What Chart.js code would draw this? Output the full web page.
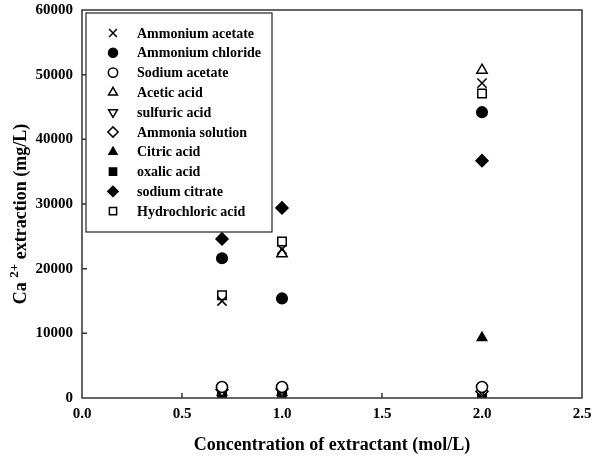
<!DOCTYPE html>
<html>
<head>
<meta charset="utf-8">
<script src="https://cdn.jsdelivr.net/npm/chart.js@4/dist/chart.umd.min.js"></script>
<style>
  html, body { margin: 0; padding: 0; background: #fff; }
  #wrap { width: 592px; height: 460px; }
</style>
</head>
<body>
<div id="wrap"><canvas id="caChart"></canvas></div>
<script>
// concentration of extractant (mol/L)
const concentrations = [0.7, 1.0, 2.0];

// Ca2+ extraction (mg/L) per extractant
const ammoniumAcetate = [15000, 23000, 48700];
const ammoniumChloride = [21600, 15400, 44200];
const sodiumAcetate = [1700, 1700, 1700];
const aceticAcid = [null, 22300, 50700];
const sulfuricAcid = [1100, 1100, 1200];
const ammoniaSolution = [1300, 1400, 1000];
const citricAcid = [900, 900, 9300];
const oxalicAcid = [700, 800, 100];
const sodiumCitrate = [24600, 29400, 36700];
const hydrochloricAcid = [15900, 24200, 47100];

const xTicks = [0, 0.5, 1.0, 1.5, 2.0, 2.5];
const yTicks = [0, 10000, 20000, 30000, 40000, 50000, 60000];

const serif = "'Liberation Serif', 'Times New Roman', serif";

function toPoints(values) 
{
    return concentrations
      .map((c, i) => ({ x: c, y: values[i] }))
      .filter(p => p.y !== null);
}

function makeSet(label, values, style, filled, radius, rotation) 
{
    return {
      label: label,
      data: toPoints(values),
      pointStyle: style,
      pointRadius: radius,
      pointHoverRadius: radius,
      pointRotation: rotation || 0,
      backgroundColor: filled ? '#000' : '#fff',
      borderColor: '#000',
      borderWidth: 1.5,
      showLine: false
    };
}

const datasets = [
  makeSet('Ammonium acetate', ammoniumAcetate, 'crossRot', false, 6.5),
  makeSet('Ammonium chloride', ammoniumChloride, 'circle', true, 5.3),
  makeSet('Sodium acetate', sodiumAcetate, 'circle', false, 5.5),
  makeSet('Acetic acid', aceticAcid, 'triangle', false, 6),
  makeSet('sulfuric acid', sulfuricAcid, 'triangle', false, 6, 180),
  makeSet('Ammonia solution', ammoniaSolution, 'rectRot', false, 6),
  makeSet('Citric acid', citricAcid, 'triangle', true, 5.5),
  makeSet('oxalic acid', oxalicAcid, 'rect', true, 6),
  makeSet('sodium citrate', sodiumCitrate, 'rectRot', true, 6),
  makeSet('Hydrochloric acid', hydrochloricAcid, 'rect', false, 6)
];

// frame, inward ticks, y title and the boxed legend inside the plot
const framePlugin = {
  id: 'frameAndLegend',
  afterDraw(chart) 
  {
    const ctx = chart.ctx;
    const area = chart.chartArea;
    const xs = chart.scales.x;
    const ys = chart.scales.y;

    ctx.save();
    ctx.strokeStyle = '#333';
    ctx.lineWidth = 1.5;
    ctx.strokeRect(area.left, area.top, area.right - area.left, area.bottom - area.top);

    ctx.beginPath();
    xTicks.slice(1, -1).forEach(v => 
    {
      const px = xs.getPixelForValue(v);
      ctx.moveTo(px, area.bottom);
      ctx.lineTo(px, area.bottom - 5);
    });
    yTicks.slice(1, -1).forEach(v => 
    {
      const py = ys.getPixelForValue(v);
      ctx.moveTo(area.left, py);
      ctx.lineTo(area.left + 5, py);
    });
    ctx.stroke();

    // y axis title with a real superscript
    ctx.fillStyle = '#000';
    ctx.textBaseline = 'alphabetic';
    ctx.textAlign = 'left';
    const big = "bold 18px " + serif;
    const small = "bold 13px " + serif;
    ctx.font = big;
    const w1 = ctx.measureText('Ca ').width;
    const w3 = ctx.measureText(' extraction (mg/L)').width;
    ctx.font = small;
    const w2 = ctx.measureText('2+').width;
    const total = w1 + w2 + w3;
    ctx.translate(20, 214);
    ctx.rotate(-Math.PI / 2);
    let tx = -total / 2;
    ctx.font = big;
    ctx.fillText('Ca ', tx, 6);
    tx += w1;
    ctx.font = small;
    ctx.fillText('2+', tx, -2);
    tx += w2;
    ctx.font = big;
    ctx.fillText(' extraction (mg/L)', tx, 6);
    ctx.setTransform(1, 0, 0, 1, 0, 0);

    // legend box
    const boxX = area.left + 4;
    const boxY = area.top + 3;
    const boxW = 186;
    const boxH = 219;
    ctx.fillStyle = '#fff';
    ctx.fillRect(boxX, boxY, boxW, boxH);
    ctx.strokeStyle = '#222';
    ctx.lineWidth = 1.2;
    ctx.strokeRect(boxX, boxY, boxW, boxH);

    ctx.font = "bold 14px " + serif;
    ctx.textBaseline = 'middle';
    ctx.textAlign = 'left';
    chart.data.datasets.forEach((ds, i) => 
    {
      const cy = boxY + 20 + i * 19.8;
      const mx = boxX + 27;
      ctx.fillStyle = ds.backgroundColor;
      ctx.strokeStyle = ds.borderColor;
      ctx.lineWidth = ds.borderWidth;
      Chart.helpers.drawPoint(ctx, {
        pointStyle: ds.pointStyle,
        radius: ds.pointRadius * 0.85,
        rotation: ds.pointRotation,
        borderWidth: ds.borderWidth
      }, mx, cy);
      ctx.fillStyle = '#000';
      ctx.fillText(ds.label, boxX + 51, cy + 1);
    });
    ctx.restore();
  }
};

new Chart(document.getElementById('caChart'), 
{
  type: 'scatter',
  data: { datasets: datasets },
  options: 
  {
    responsive: true,
    maintainAspectRatio: false,
    animation: false,
    layout: { padding: { top: 10, right: 10, left: 0, bottom: 0 } },
    plugins: 
    {
      legend: { display: false },
      tooltip: { enabled: false }
    },
    scales: 
    {
      x: 
      {
        type: 'linear',
        min: 0,
        max: 2.5,
        afterFit: scale => 
        {
          scale.height = 62;
          scale.paddingLeft = 0;
          scale.paddingRight = 0;
        },
        afterBuildTicks: scale => { scale.ticks = xTicks.map(v => ({ value: v })); },
        border: { display: false },
        grid: { display: false, drawTicks: false, tickLength: 0 },
        ticks: 
        {
          color: '#000',
          padding: 7,
          font: { family: serif, size: 15, weight: 'bold' },
          callback: v => Number(v).toFixed(1)
        },
        title: 
        {
          display: true,
          text: 'Concentration of extractant (mol/L)',
          color: '#000',
          padding: { top: 0, bottom: 4 },
          font: { family: serif, size: 18, weight: 'bold' }
        }
      },
      y: 
      {
        type: 'linear',
        min: 0,
        max: 60000,
        afterFit: scale => 
        {
          scale.width = 82;
          scale.paddingTop = 0;
          scale.paddingBottom = 0;
        },
        afterBuildTicks: scale => { scale.ticks = yTicks.map(v => ({ value: v })); },
        border: { display: false },
        grid: { display: false, drawTicks: false, tickLength: 0 },
        ticks: 
        {
          color: '#000',
          padding: 9,
          font: { family: serif, size: 15, weight: 'bold' },
          callback: v => String(v)
        }
      }
    }
  },
  plugins: [framePlugin]
});
</script>
</body>
</html>
